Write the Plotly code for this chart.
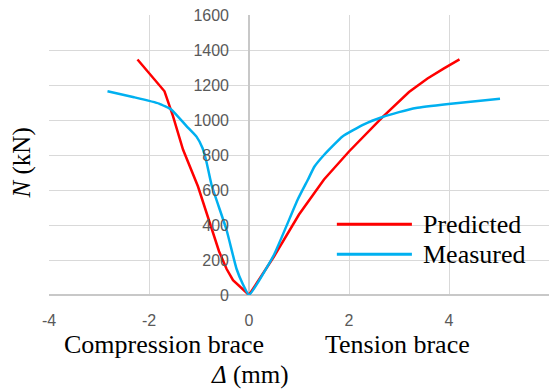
import plotly.graph_objects as go

# Data (displacement in mm, axial force in kN)
pred_x = [-2.23, -1.95, -1.69, -1.52, -1.32, -1.02, -0.80, -0.60, -0.45, -0.32, 0.0,
          0.5, 1.0, 1.5, 2.0, 2.67, 3.2, 3.57, 3.9, 4.21]
pred_y = [1346, 1250, 1164, 1022, 831, 620, 430, 250, 150, 85, 0,
          220, 460, 660, 820, 1017, 1160, 1237, 1295, 1346]

meas_x = [-2.83, -2.3, -1.8, -1.55, -1.25, -1.05, -0.93, -0.85, -0.75, -0.45, -0.25, -0.12, 0.0,
          0.5, 0.97, 1.18, 1.31, 1.5, 1.87, 2.3, 2.67, 3.0, 3.34, 3.99, 5.02]
meas_y = [1164, 1130, 1094, 1059, 965, 905, 840, 760, 630, 373, 150, 60, 0,
          230, 543, 660, 734, 800, 906, 975, 1017, 1045, 1069, 1092, 1122]

x_ticks = [-4, -2, 0, 2, 4, 6]
y_ticks = [0, 200, 400, 600, 800, 1000, 1200, 1400, 1600]

serif = "Liberation Serif"
tick_font = dict(family="Liberation Sans", size=16, color="#595959")

fig = go.Figure()
fig.add_trace(go.Scatter(x=pred_x, y=pred_y, mode="lines", name="Predicted",
                         line=dict(color="#ff0000", width=2.5)))
fig.add_trace(go.Scatter(x=meas_x, y=meas_y, mode="lines", name="Measured",
                         line=dict(color="#00b0f0", width=2.5, shape="spline", smoothing=0.4)))

fig.update_layout(
    width=552, height=392,
    margin=dict(l=49, r=3, t=15, b=97),
    paper_bgcolor="white", plot_bgcolor="white",
    showlegend=False,
    xaxis=dict(range=[-4, 6], tickvals=x_ticks, ticktext=[str(v) for v in x_ticks],
               showgrid=True, gridcolor="#d9d9d9", gridwidth=1,
               zeroline=True, zerolinecolor="#c8c8c8", zerolinewidth=1.5,
               showline=False, ticks="", tickfont=tick_font,
               ticklabelstandoff=14, automargin=False),
    yaxis=dict(range=[0, 1600], tickvals=y_ticks, ticktext=[str(v) for v in y_ticks],
               showgrid=True, gridcolor="#d9d9d9", gridwidth=1,
               zeroline=True, zerolinecolor="#c8c8c8", zerolinewidth=1.5,
               anchor="free", position=0.4, showline=False, ticks="",
               tickfont=tick_font, ticklabelstandoff=20, automargin=False),
)

# Axis titles and side labels
fig.add_annotation(text="<i>N</i> (kN)", xref="paper", yref="paper", x=-0.054, y=0.47,
                   textangle=-90, showarrow=False, font=dict(family=serif, size=25, color="black"),
                   xanchor="center", yanchor="middle")
fig.add_annotation(text="Compression brace", xref="paper", yref="paper", x=0.23, y=-0.178,
                   showarrow=False, font=dict(family=serif, size=26, color="black"),
                   xanchor="center", yanchor="middle")
fig.add_annotation(text="Tension brace", xref="paper", yref="paper", x=0.696, y=-0.178,
                   showarrow=False, font=dict(family=serif, size=26, color="black"),
                   xanchor="center", yanchor="middle")
fig.add_annotation(text="<i>Δ</i> (mm)", xref="paper", yref="paper", x=0.40, y=-0.285,
                   showarrow=False, font=dict(family=serif, size=25, color="black"),
                   xanchor="center", yanchor="middle")

# Legend (drawn manually to match line sample length)
legend_items = [("Predicted", "#ff0000", 0.2528), ("Measured", "#00b0f0", 0.1455)]
for name, color, ly in legend_items:
    fig.add_shape(type="line", xref="paper", yref="paper", x0=0.5757, x1=0.7258, y0=ly, y1=ly,
                  line=dict(color=color, width=3))
    fig.add_annotation(text=name, xref="paper", yref="paper", x=0.7438, y=ly,
                       showarrow=False, font=dict(family=serif, size=26, color="black"),
                       xanchor="left", yanchor="middle")

fig.write_html("out.html", config={"displayModeBar": False},
               post_script="document.body.style.margin='0';")
